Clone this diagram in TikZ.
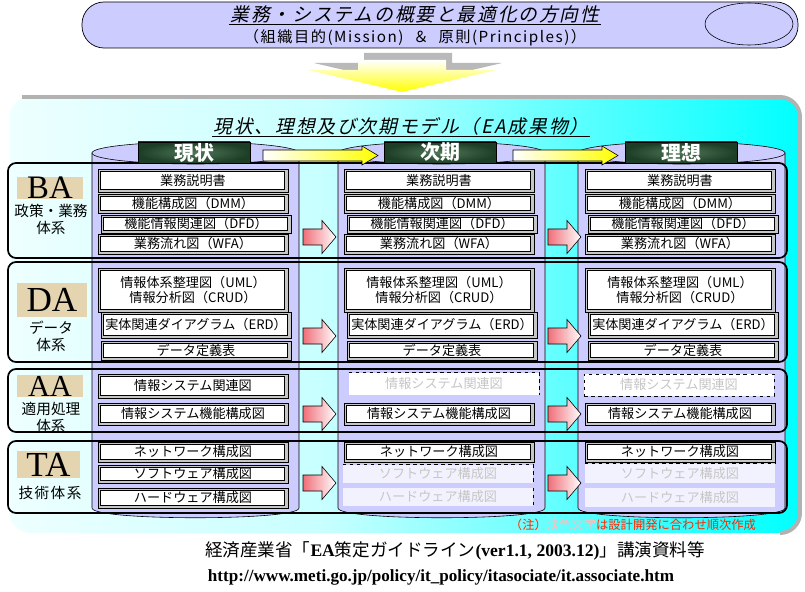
\documentclass[tikz,border=0pt]{standalone}
\usepackage{fontspec}
\setmainfont{Noto Sans CJK JP}
\newfontfamily\jpslant{Noto Sans CJK JP}[FakeSlant=0.22,LetterSpace=10]
\newfontfamily\jpwide{Noto Sans CJK JP}[LetterSpace=10]
\newfontfamily\tms{Liberation Serif}
\usetikzlibrary{positioning}

\definecolor{lav}{RGB}{204,204,255}
\definecolor{lavw}{RGB}{242,242,255}
\definecolor{tilebg}{RGB}{228,212,176}
\definecolor{marbled}{RGB}{28,62,38}
\definecolor{marblel}{RGB}{80,120,88}
\definecolor{pinkl}{RGB}{240,110,120}
\definecolor{notered}{RGB}{255,40,0}
\definecolor{notepale}{RGB}{255,190,190}
\definecolor{pfl}{RGB}{238,255,255}
\pgfdeclarehorizontalshading{panelfade}{100bp}{color(0bp)=(pfl); color(25bp)=(pfl);
  color(45bp)=(cyan!22); color(60bp)=(cyan!62); color(75bp)=(cyan); color(100bp)=(cyan)}
\newdimen\pxu
\setlength{\pxu}{0.03cm}

\begin{document}
\begin{tikzpicture}[x=0.03cm,y=-0.03cm,
 doc/.style={draw=black,line width=0.5pt,fill=gray!45,inner sep=0pt,minimum width=190\pxu,
  align=center,font=\fontsize{11.2}{13.5}\selectfont,
  path picture={\draw[fill=white,line width=0.5pt]
   ([shift={(1.8pt,-1.8pt)}]path picture bounding box.north west) rectangle
   ([shift={(-3.2pt,2.2pt)}]path picture bounding box.south east);}},
 pale/.style={fill=lavw,text=gray!45,inner sep=0pt,minimum width=190\pxu,
  font=\fontsize{11.2}{13.5}\selectfont},
 frame/.style={draw=black,line width=1.5pt,rounded corners=0.24cm},
 cyl/.style={fill=lav,draw=black,line width=0.5pt},
 tab/.style={draw=black,line width=0.6pt,inner color=marblel,outer color=marbled,text=white,
  font=\fontsize{17}{17}\selectfont\bfseries,minimum width=112\pxu,minimum height=21\pxu,inner sep=0pt},
 tile/.style={fill=tilebg,inner sep=0pt,font=\tms\fontsize{28}{28}\selectfont},
 lbl/.style={align=center,font=\fontsize{12.5}{14.5}\selectfont,inner sep=0pt},
 pinkarr/.style={draw=black,line width=0.5pt,left color=pinkl,right color=white},
 hdrarr/.style={draw=black,line width=0.5pt,left color=white,right color=yellow}]
\useasboundingbox (0,0) rectangle (805,592);

% banner
\draw[fill=lav,line width=0.6pt,rounded corners=0.66cm] (82,2) rectangle (798,48);
\draw[fill=lav,line width=0.5pt] (749,24) ellipse (44 and 21);
\node[font=\jpslant\fontsize{16}{16}\selectfont,inner sep=1pt] (title) at (415,14) {業務・システムの概要と最適化の方向性};
\draw[line width=0.7pt] (title.south west) -- (title.south east);
\node[font=\jpwide\fontsize{13}{13}\selectfont] (mission) at (415,38) {（組織目的(Mission) \ ＆ \ 原則(Principles)）};

% down arrow
\fill[gray!55,shift={(6,-7)}] (358,60) -- (446,60) -- (446,70) -- (496,70) -- (402,92) -- (308,70) -- (358,70) -- cycle;
\shade[top color=white,middle color=yellow!45,bottom color=yellow] (358,60) -- (446,60) -- (446,70) -- (496,70) -- (402,92) -- (308,70) -- (358,70) -- cycle;

% panel
\shade[shading=panelfade,rounded corners=0.6cm] (10,97) rectangle (800,533);
\draw[gray!60,line width=3.4pt,rounded corners=0.6cm] (22,97) -- (800,97) -- (800,533) -- (780,533);
\node[font=\jpslant\fontsize{16}{16}\selectfont,inner sep=1pt] (ea) at (401,126) {現状、理想及び次期モデル（EA成果物）};
\draw[line width=0.7pt] (ea.south west) -- (ea.south east);

% cylinders
\foreach \cx in {92,338,578}{
  \filldraw[cyl] (\cx,153) -- (\cx,508) .. controls (\cx,521) and (\cx+207,521) .. (\cx+207,508) -- (\cx+207,153) -- cycle;
  \filldraw[cyl] (\cx+103.5,153) ellipse (103.5 and 11);
}

% layers
\draw[frame] (8,163) rectangle (787,258);
\draw[frame] (8,262) rectangle (787,362);
\draw[frame] (8,369) rectangle (787,432);
\draw[frame] (8,441) rectangle (787,513);

% column heads
\node[tab] (genjo) at (194,152.5) {現状};
\node[tab] (jiki) at (440,152.5) {次期};
\node[tab] (riso) at (681,152.5) {理想};
\draw[hdrarr] (263,150) -- (362,150) -- (362,146) -- (378,155.5) -- (362,165) -- (362,161) -- (263,161) -- cycle;
\draw[hdrarr] (513,150) -- (602,150) -- (602,146) -- (618,155.5) -- (602,165) -- (602,161) -- (513,161) -- cycle;

% documents
\foreach \dx/\k in {0/1,246/2,487/3}{
  \node[doc,minimum height=23\pxu] (gyomu\k) at (193+\dx,180.5) {業務説明書};
  \node[doc,minimum height=19\pxu] (dmm\k) at (193+\dx,203.5) {機能構成図（DMM）};
  \node[doc,minimum height=18\pxu] (dfd\k) at (196+\dx,224) {機能情報関連図（DFD）};
  \node[doc,minimum height=20\pxu] (wfa\k) at (193+\dx,244) {業務流れ図（WFA）};
  \node[doc,minimum height=44\pxu] (uml\k) at (193+\dx,290) {情報体系整理図（UML）\\情報分析図（CRUD）};
  \node[doc,minimum height=26\pxu] (erd\k) at (196+\dx,325) {実体関連ダイアグラム（ERD）};
  \node[doc,minimum height=19\pxu] (teigi\k) at (196+\dx,350.5) {データ定義表};
  \node[doc,minimum height=22\pxu] (kinou\k) at (193+\dx,414) {情報システム機能構成図};
  \node[doc,minimum height=20\pxu] (nw\k) at (193+\dx,452) {ネットワーク構成図};
}
\node[doc,minimum height=24\pxu] (kanren1) at (193,386) {情報システム関連図};
\node[doc,minimum height=18\pxu] (soft1) at (193,474) {ソフトウェア構成図};
\node[doc,minimum height=20\pxu] (hard1) at (193,498) {ハードウェア構成図};
\node[pale,fill=white,minimum height=22\pxu] (kanren2) at (444,384) {情報システム関連図};
\node[pale,fill=white,minimum height=22\pxu,draw=black,dashed,line width=0.5pt] (kanren3) at (679,385) {情報システム関連図};
\node[pale,minimum height=18\pxu] (soft2) at (438,474) {ソフトウェア構成図};
\node[pale,minimum height=18\pxu] (hard2) at (438,497) {ハードウェア構成図};
\node[pale,minimum height=19\pxu] (soft3) at (680,473.5) {ソフトウェア構成図};
\node[pale,minimum height=19\pxu] (hard3) at (680,497.5) {ハードウェア構成図};
\draw[dashed,line width=0.5pt] (kanren2.north west) -- (kanren2.north east) -- (kanren2.south east);
\draw[dashed,line width=0.5pt] (soft2.north west) -- (soft2.north east) -- (soft2.south east);
\draw[dashed,line width=0.5pt] (hard2.north east) -- (hard2.south east);
\draw[dashed,line width=0.5pt] (soft3.north west) -- (soft3.north east);

% transitions
\foreach \ax in {303,548}
  \foreach \ay in {237,336,414,483}
    \draw[pinkarr] (\ax,\ay-8) -- (\ax+19,\ay-8) -- (\ax+19,\ay-16.5) -- (\ax+33,\ay) -- (\ax+19,\ay+16.5) -- (\ax+19,\ay+8) -- (\ax,\ay+8) -- cycle;

% layer labels
\node[tile,minimum width=66\pxu,minimum height=22\pxu] (ba) at (50,188) {BA};
\node[lbl] (balbl) at (51,219.5) {政策・業務\\体系};
\node[tile,minimum width=70\pxu,minimum height=34\pxu,font=\tms\fontsize{30}{30}\selectfont] (da) at (52,300) {DA};
\node[lbl] (dalbl) at (51,336) {データ\\体系};
\node[tile,minimum width=66\pxu,minimum height=22\pxu,font=\tms\fontsize{26}{26}\selectfont] (aa) at (50,386) {AA};
\node[lbl] (aalbl) at (51,417.5) {適用処理\\体系};
\node[tile,minimum width=63\pxu,minimum height=27\pxu,font=\tms\fontsize{30}{30}\selectfont] (ta) at (48.5,464.5) {TA};
\node[lbl,font=\jpwide\fontsize{12.5}{14.5}\selectfont] (talbl) at (50,493) {技術体系};

% notes
\node[font=\fontsize{10.5}{12}\selectfont,text=notered] (note) at (633,525) {（注）{\color{notepale} 淡色文字}は設計開発に合わせ順次作成};
\node[font=\fontsize{15}{15}\selectfont] (src) at (455,551) {経済産業省「{\tms\bfseries EA}策定ガイドライン{\tms\bfseries (ver1.1, 2003.12)}」講演資料等};
\node[font=\tms\bfseries\fontsize{14.6}{15}\selectfont] (url) at (441,577) {http://www.meti.go.jp/policy/it\_policy/itasociate/it.associate.htm};
\end{tikzpicture}
\end{document}
